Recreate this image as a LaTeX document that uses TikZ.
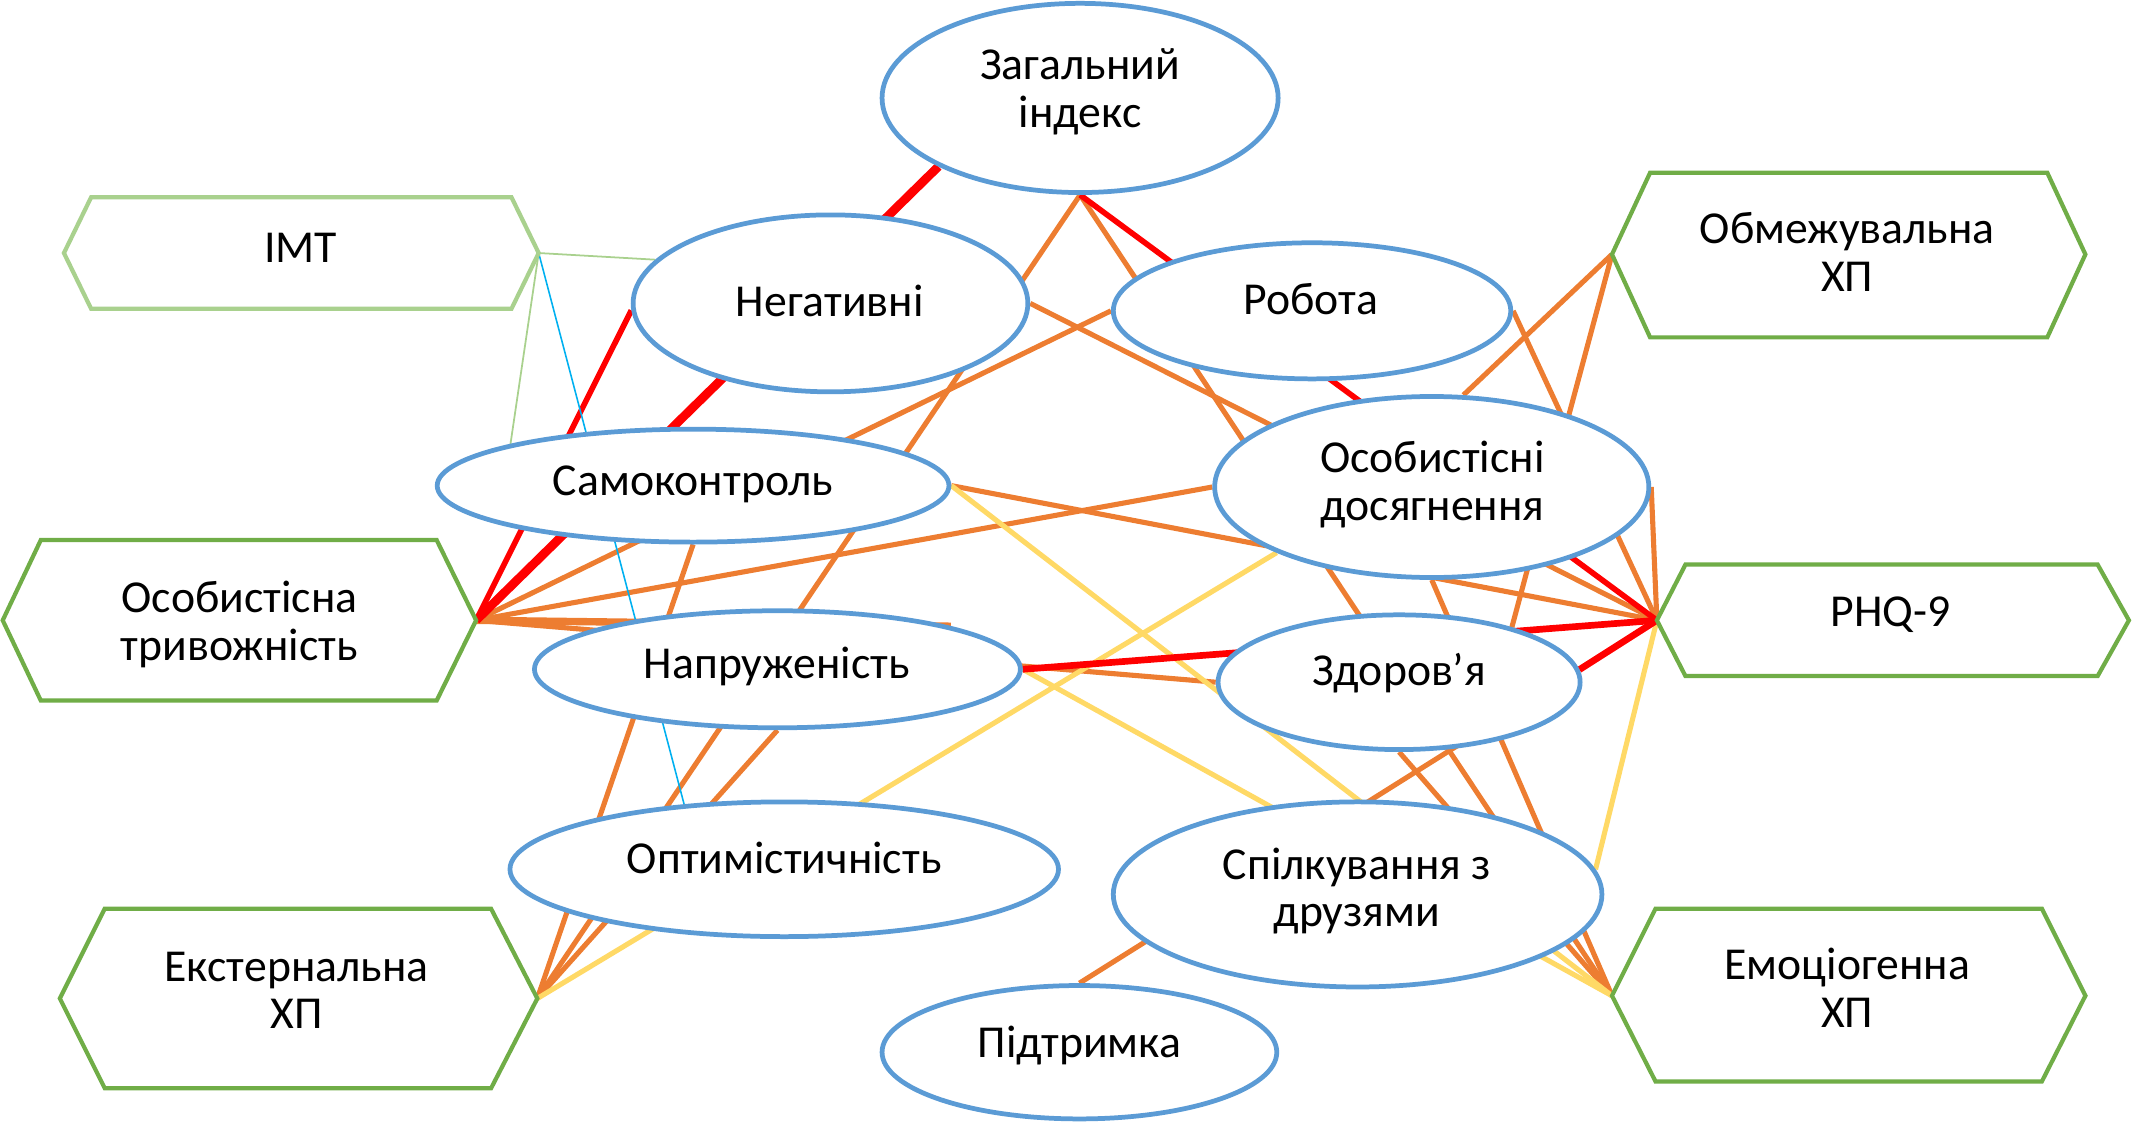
\documentclass[tikz,border=0pt]{standalone}
\usepackage{fontspec}
\setmainfont{Carlito}
\usetikzlibrary{backgrounds,shapes.geometric}
\definecolor{ellblue}{HTML}{5B9BD5}
\definecolor{hexgreen}{HTML}{70AD47}
\definecolor{hexlight}{HTML}{A9D18E}
\definecolor{lnorange}{HTML}{ED7D31}
\definecolor{lnyellow}{HTML}{FFD966}
\definecolor{lnred}{HTML}{FF0000}
\definecolor{lncyan}{HTML}{00B0F0}
\begin{document}
\begin{tikzpicture}[x=0.013603cm, y=-0.013603cm,
  txt/.style={font=\fontsize{13}{13.6}\selectfont, align=center, inner sep=0pt},
  ell/.style 2 args={ellipse, draw=ellblue, line width=1.35pt, fill=white,
    minimum width=#1*0.027206cm, minimum height=#2*0.027206cm, inner sep=0pt},
  hexg/.style={draw=hexgreen, line width=1.2pt, fill=white, line join=miter},
  hexl/.style={draw=hexlight, line width=1.2pt, fill=white, line join=miter},
  lor/.style={draw=lnorange, line width=1.45pt},
  lorthick/.style={draw=lnorange, line width=2.1pt},
  lye/.style={draw=lnyellow, line width=1.45pt},
  lrd/.style={draw=lnred, line width=1.6pt},
  lrdmid/.style={draw=lnred, line width=1.9pt},
  lrdthick/.style={draw=lnred, line width=2.5pt},
  llg/.style={draw=hexlight, line width=0.5pt},
  lcy/.style={draw=lncyan, line width=0.45pt}]
\useasboundingbox (0,0) rectangle (1568,827);

% ---------- ellipses ----------
\node[ell={145.5}{69.5}] (Z)  at (794,72)      {};
\node[ell={145}{65}]     (N)  at (610.5,223)   {};
\node[ell={146}{50}]     (R)  at (964.5,228.5) {};
\node[ell={188}{41.5}]   (S)  at (509.5,357)   {};
\node[ell={159.5}{66.5}] (O)  at (1052.5,358)  {};
\node[ell={178.5}{43}]   (Na) at (571.5,492)   {};
\node[ell={133}{49.5}]   (Zd) at (1028.5,501.5){};
\node[ell={201.5}{49.5}] (Op) at (576.5,639)   {};
\node[ell={179.5}{68}]   (Sp) at (998,657.5)   {};
\node[ell={145}{49}]     (P)  at (793.5,773.5) {};

\node[txt] (Zt)  at (794,67.5)   {Загальний\\індекс};
\node[txt] (Nt)  at (610,221)    {Негативні};
\node[txt] (Rt)  at (963.5,220)  {Робота};
\node[txt] (St)  at (509.5,356)  {Самоконтроль};
\node[txt] (Ot)  at (1053,356)   {Особистісні\\досягнення};
\node[txt] (Nat) at (571,490)    {Напруженість};
\node[txt] (Zdt) at (1028.5,494.5){Здоров’я};
\node[txt] (Opt) at (576.5,631)  {Оптимістичність};
\node[txt] (Spt) at (997.5,655)  {Спілкування з\\друзями};
\node[txt] (Pt)  at (793.5,768.5){Підтримка};

% ---------- hexagons ----------
\coordinate (IMTl) at (47,186);   \coordinate (IMTr) at (396,186);
\draw[hexl] (IMTl) -- (67,145) -- (376,145) -- (IMTr) -- (376,227) -- (67,227) -- cycle;
\node[txt] (IMT) at (221,182) {ІМТ};

\coordinate (OTl) at (2,456);     \coordinate (OTr) at (350,456);
\draw[hexg] (OTl) -- (30,397) -- (321,397) -- (OTr) -- (321,515) -- (30,515) -- cycle;
\node[txt] (OT) at (176,459) {Особистісна\\тривожність};

\coordinate (El) at (44,734);     \coordinate (Er) at (395,734);
\draw[hexg] (El) -- (77,668) -- (361,668) -- (Er) -- (361,800) -- (77,800) -- cycle;
\node[txt] (E) at (218,728) {Екстернальна\\ХП};

\coordinate (Obl) at (1185,187);  \coordinate (Obr) at (1533,187);
\draw[hexg] (Obl) -- (1213,127) -- (1505,127) -- (Obr) -- (1505,248) -- (1213,248) -- cycle;
\node[txt] (Ob) at (1358,185) {Обмежувальна\\ХП};

\coordinate (PHl) at (1218,456);  \coordinate (PHr) at (1565,456);
\draw[hexg] (PHl) -- (1239,415) -- (1542,415) -- (PHr) -- (1542,497) -- (1239,497) -- cycle;
\node[txt] (PH) at (1390,452) {PHQ-9};

\coordinate (Eml) at (1185,732);  \coordinate (Emr) at (1533,732);
\draw[hexg] (Eml) -- (1217,668) -- (1501,668) -- (Emr) -- (1501,795) -- (1217,795) -- cycle;
\node[txt] (Em) at (1358,726) {Емоціогенна\\ХП};

% ---------- connectors ----------
\begin{pgfonlayer}{background}
% orange
\draw[lor] (OTr) -- (R.west);
\draw[lor] (OTr) -- (O.west);
\draw[lorthick] (OTr) -- (Na.north east);
\draw[lor] (OTr) -- (Zd.west);
\draw[lor] (Er) -- (Z.south);
\draw[lor] (Er) -- (Na.south);
\draw[lor] (Er) -- (S.south);
\draw[lor] (Eml) -- (Z.south);
\draw[lor] (Eml) -- (O.south);
\draw[lor] (Eml) -- (Zd.south);
\draw[lor] (Obl) -- (O.71);
\draw[lor] (Obl) -- (Zd.26);
\draw[lor] (PHl) -- (N.east);
\draw[lor] (PHl) -- (R.east);
\draw[lor] (PHl) -- (S.east);
\draw[lor] (PHl) -- (O.east);
\draw[lor] (PHl) -- (P.north);
% yellow
\draw[lye] (Er) -- (O.south west);
\draw[lye] (Eml) -- (S.east);
\draw[lye] (Eml) -- (Na.east);
\draw[lye] (PHl) -- (Sp.6);
% red
\draw[lrd] (OTr) -- (N.182);
\draw[lrdthick] (OTr) -- (Z.south west);
\draw[lrd] (PHl) -- (Z.south);
\draw[lrdmid] (PHl) -- (Na.east);
\draw[lrdmid] (PHl) -- (Zd.4);
% thin
\draw[llg] (IMTr) -- (N.166);
\draw[llg] (IMTr) -- (S.north west);
\draw[lcy] (IMTr) -- (Op.147);
\end{pgfonlayer}
\end{tikzpicture}
\end{document}
